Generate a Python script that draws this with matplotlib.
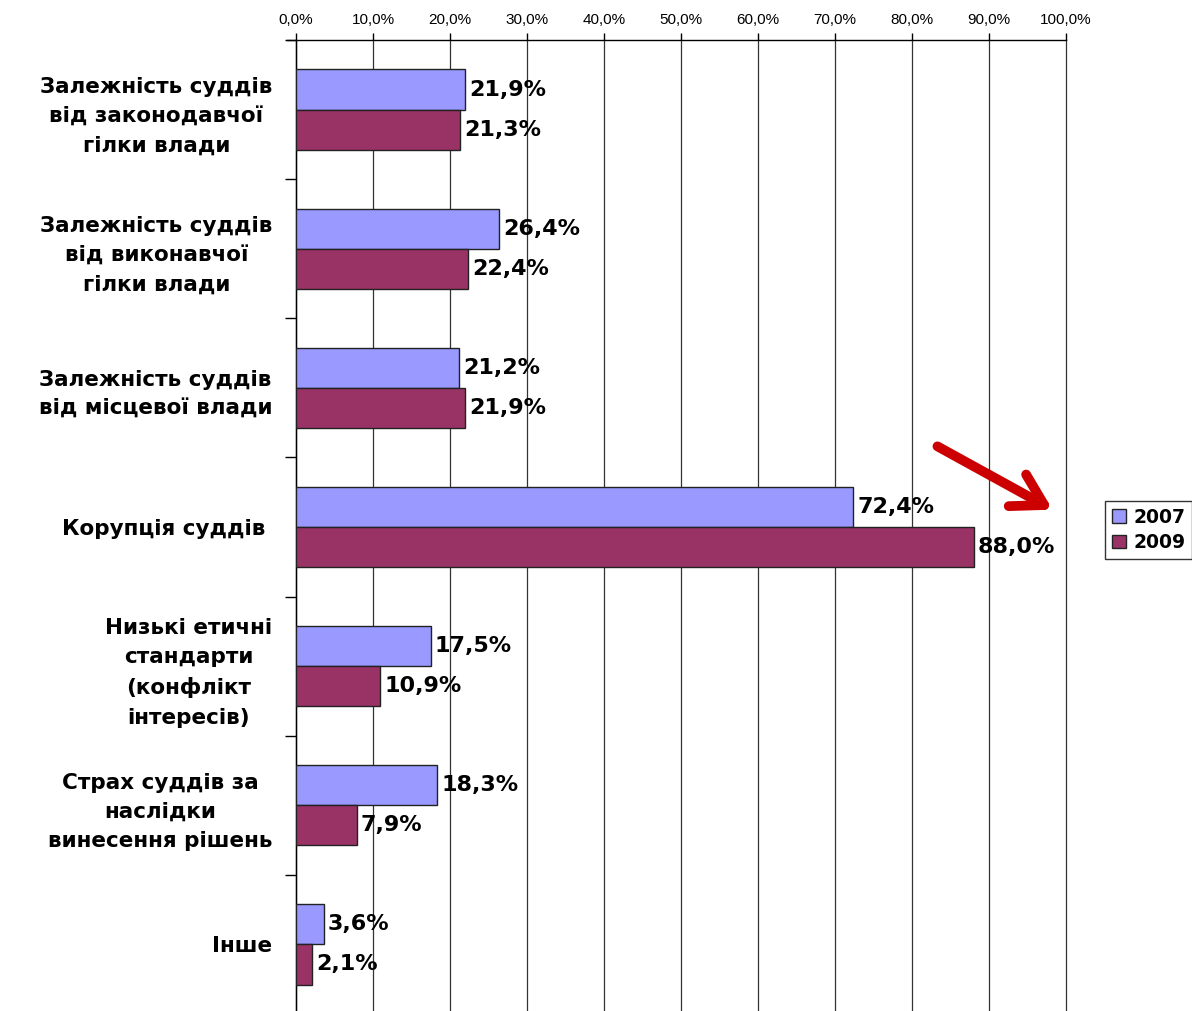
import matplotlib.pyplot as plt
from matplotlib.patches import FancyArrowPatch
from matplotlib.ticker import FixedLocator, FuncFormatter
import numpy as np

plt.rcParams['font.family'] = ['DejaVu Sans']

categories = [
    'Залежність суддів\nвід законодавчої\nгілки влади',
    'Залежність суддів\nвід виконавчої\nгілки влади',
    'Залежність суддів\nвід місцевої влади',
    'Корупція суддів ',
    'Низькі етичні\nстандарти\n(конфлікт\nінтересів)',
    'Страх суддів за\nнаслідки\nвинесення рішень',
    'Інше',
]
values_2007 = [21.9, 26.4, 21.2, 72.4, 17.5, 18.3, 3.6]
values_2009 = [21.3, 22.4, 21.9, 88.0, 10.9, 7.9, 2.1]
series_names = ['2007', '2009']
xticks = list(range(0, 101, 10))

color_2007 = '#9999FF'
color_2009 = '#993366'


def pct(v):
    return ('%.1f%%' % v).replace('.', ',')


fig = plt.figure(figsize=(11.92, 10.11), dpi=100)
ax = fig.add_axes([296 / 1192, -0.003, 770 / 1192, 1 - 40 / 1011 + 0.003])

y = np.arange(len(categories))
h = 0.288
bars1 = ax.barh(y - h / 2, values_2007, height=h, color=color_2007,
                edgecolor='#222222', linewidth=1, label=series_names[0], zorder=3)
bars2 = ax.barh(y + h / 2, values_2009, height=h, color=color_2009,
                edgecolor='#222222', linewidth=1, label=series_names[1], zorder=3)

for bars, vals in ((bars1, values_2007), (bars2, values_2009)):
    for b, v in zip(bars, vals):
        ax.annotate(pct(v), (v, b.get_y() + b.get_height() / 2),
                    xytext=(3, 0), textcoords='offset points',
                    ha='left', va='center', fontsize=16, fontweight='bold',
                    zorder=5)

ax.set_xlim(0, 100)
ax.set_ylim(len(categories) - 0.5, -0.5)

ax.xaxis.tick_top()
ax.set_xticks(xticks)
ax.xaxis.set_major_formatter(FuncFormatter(lambda v, p: pct(v)))
ax.tick_params(axis='x', length=5, width=1, pad=4)
for lab in ax.get_xticklabels():
    lab.set_family('Liberation Sans')
    lab.set_fontsize(11)
ax.grid(axis='x', color='#333333', linewidth=0.9, zorder=0)
for gl in ax.get_xgridlines():
    gl.set_clip_on(False)

ax.set_yticks(y)
ax.set_yticklabels(categories, fontsize=15.5, fontweight='bold',
                   ha='right', multialignment='center', linespacing=1.58)
ax.tick_params(axis='y', which='major', length=0, pad=17)
ax.yaxis.set_minor_locator(FixedLocator(np.arange(-0.5, len(categories) + 0.5, 1)))
ax.tick_params(axis='y', which='minor', length=8, width=1)

for s in ('right', 'bottom'):
    ax.spines[s].set_visible(False)
ax.spines['top'].set_bounds(-1.2, 100)
ax.spines['left'].set_linewidth(1)
ax.spines['top'].set_linewidth(1)

leg = fig.legend(loc='upper left', bbox_to_anchor=(1105 / 1192, 1 - 501 / 1011),
                 frameon=True, fancybox=False, edgecolor='black',
                 prop={'weight': 'bold', 'size': 13.5}, handlelength=0.75,
                 handleheight=0.75, handletextpad=0.4, borderpad=0.35,
                 labelspacing=0.35, borderaxespad=0)
leg.get_frame().set_linewidth(1)

fig.patches.append(FancyArrowPatch(
    (935 / 1192, 1 - 445 / 1011), (1055 / 1192, 1 - 511 / 1011),
    transform=fig.transFigure, arrowstyle='->,head_length=22,head_width=13',
    color='#CC0000', linewidth=7, capstyle='round', joinstyle='round'))

fig.savefig('out.png', dpi=100)
